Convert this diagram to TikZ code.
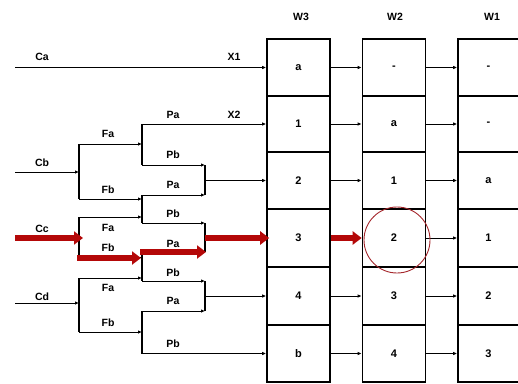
\documentclass[tikz,border=0pt]{standalone}
\usepackage{fontspec}
\setmainfont{Liberation Sans}
\usetikzlibrary{arrows.meta}
\definecolor{redarr}{RGB}{180,8,8}
\definecolor{circ}{RGB}{165,40,45}
\begin{document}
\begin{tikzpicture}[x=1pt,y=-1pt,
  lbl/.style={font=\fontsize{10.5}{12}\selectfont\bfseries, inner sep=0pt},
  celltxt/.style={font=\fontsize{11}{12}\selectfont\bfseries, inner sep=0pt},
  cell/.style={draw, line width=1.6pt, minimum width=63pt, minimum height=57pt, inner sep=0pt},
  wire/.style={line width=1pt},
  bus/.style={line width=1.5pt},
  arr/.style={wire, -{Latex[length=4pt,width=3.5pt]}},
  redarrow/.style={line width=6.5pt, color=redarr, -{Triangle[length=9pt,width=13pt]}}]
\useasboundingbox (0,0) rectangle (518,383);
% columns
\foreach \c/\x in {3/298.5,2/394,1/489.5}{
  \foreach \r/\y in {1/67.5,2/124,3/180.5,4/238,5/296,6/353.5}{
    \node[cell] (w\c r\r) at (\x,\y) {};
  }
}
\node[lbl] (h3) at (301,17) {W3};
\node[lbl] (h2) at (395,17) {W2};
\node[lbl] (h1) at (492,17) {W1};
% cell texts
\foreach \r/\t in {1/a,2/1,3/2,4/3,5/4,6/b}{\node[celltxt] (t3\r) at (w3r\r) {\t};}
\foreach \r/\t in {1/-,2/a,3/1,4/2,5/3,6/4}{\node[celltxt] (t2\r) at (w2r\r) {\t};}
\foreach \r/\t in {1/-,2/-,3/a,4/1,5/2,6/3}{\node[celltxt] (t1\r) at ([xshift=-1pt]w1r\r) {\t};}
% column-to-column arrows
\foreach \r in {1,2,3,5,6}{\draw[arr] (w3r\r.east) -- (w2r\r.west);}
\foreach \r in {1,...,6}{\draw[arr] (w2r\r.east) -- (w1r\r.west);}
% left network coordinates
\coordinate (ca) at (15,67.5);
\coordinate (cb) at (15,172);
\coordinate (cc) at (15,238);
\coordinate (cd) at (15,303);
\coordinate (jb) at (79,172);
\coordinate (jd) at (79,303);
\coordinate (fa1) at (79,144); \coordinate (fb1) at (79,199);
\coordinate (fa2) at (79,217); \coordinate (fb2) at (79,257);
\coordinate (fa3) at (79,278); \coordinate (fb3) at (79,332);
\coordinate (s1a) at (142,124); \coordinate (s1b) at (142,165); \coordinate (s1m) at (142,144);
\coordinate (s2a) at (142,195); \coordinate (s2b) at (142,223); \coordinate (s2m) at (142,199);
\coordinate (s3m) at (142,217); \coordinate (s4m) at (142,257);
\coordinate (s4a) at (142,252); \coordinate (s4b) at (142,281);
\coordinate (s5a) at (142,311); \coordinate (s5b) at (142,353.5); \coordinate (s5m) at (142,332);
\coordinate (m1a) at (205,165); \coordinate (m1b) at (205,195); \coordinate (m1o) at (205,180.5);
\coordinate (m2a) at (205,223); \coordinate (m2b) at (205,252); \coordinate (m2o) at (205,238);
\coordinate (m3a) at (205,281); \coordinate (m3b) at (205,311); \coordinate (m3o) at (205,296);
\coordinate (fa3e) at (142,278);
% Ca
\draw[arr] (ca) -- (w3r1.west);
% Cb
\draw[arr] (cb) -- (jb);
\draw[bus] (fa1) -- (fb1);
\draw[arr] (fa1) -- (s1m);
\draw[arr] (fb1) -- (s2m);
\draw[bus] (s1a) -- (s1b);
\draw[arr] (s1a) -- (w3r2.west);
\draw[arr] (s1b) -- (m1a);
\draw[bus] (s2a) -- (s2b);
\draw[arr] (s2a) -- (m1b);
\draw[arr] (s2b) -- (m2a);
\draw[bus] (m1a) -- (m1b);
\draw[arr] (m1o) -- (w3r3.west);
% Cc
\draw[bus] (fa2) -- (fb2);
\draw[arr] (fa2) -- (s3m);
\draw[wire] (fb2) -- (s4m);
\draw[bus] (s4a) -- (s4b);
\draw[wire] (s4a) -- (m2b);
\draw[arr] (s4b) -- (m3a);
\draw[bus] (m2a) -- (m2b);
% Cd
\draw[arr] (cd) -- (jd);
\draw[bus] (fa3) -- (fb3);
\draw[arr] (fa3) -- (fa3e);
\draw[arr] (fb3) -- (s5m);
\draw[bus] (s5a) -- (s5b);
\draw[arr] (s5a) -- (m3b);
\draw[arr] (s5b) -- (w3r6.west);
\draw[bus] (m3a) -- (m3b);
\draw[arr] (m3o) -- (w3r5.west);
% red arrows
\draw[redarrow] (cc) -- (83,238);
\draw[redarrow] (77,258) -- (141,258);
\draw[redarrow] (140,252) -- (206,252);
\draw[redarrow] (m2o) -- ([xshift=3pt]w3r4.west);
\draw[redarrow] (w3r4.east) -- (w2r4.west);
% circle
\node[draw=circ, line width=0.9pt, circle, minimum size=66pt, inner sep=0pt] (ring) at (397,240) {};
% labels
\node[lbl] (lca) at (42,57) {Ca};
\node[lbl] (lx1) at (234,57) {X1};
\node[lbl] (lpa1) at (173,115) {Pa};
\node[lbl] (lx2) at (234,115) {X2};
\node[lbl] (lfa1) at (108,134) {Fa};
\node[lbl] (lpb1) at (173,155) {Pb};
\node[lbl] (lcb) at (42,163) {Cb};
\node[lbl] (lfb1) at (108,190) {Fb};
\node[lbl] (lpa2) at (173,185) {Pa};
\node[lbl] (lpb2) at (173,214) {Pb};
\node[lbl] (lcc) at (42,229) {Cc};
\node[lbl] (lfa2) at (108,228) {Fa};
\node[lbl] (lfb2) at (108,248) {Fb};
\node[lbl] (lpa3) at (173,244) {Pa};
\node[lbl] (lpb3) at (173,273) {Pb};
\node[lbl] (lfa3) at (108,288) {Fa};
\node[lbl] (lcd) at (42,297) {Cd};
\node[lbl] (lpa4) at (173,301) {Pa};
\node[lbl] (lfb3) at (108,323) {Fb};
\node[lbl] (lpb4) at (173,344) {Pb};
\end{tikzpicture}
\end{document}
